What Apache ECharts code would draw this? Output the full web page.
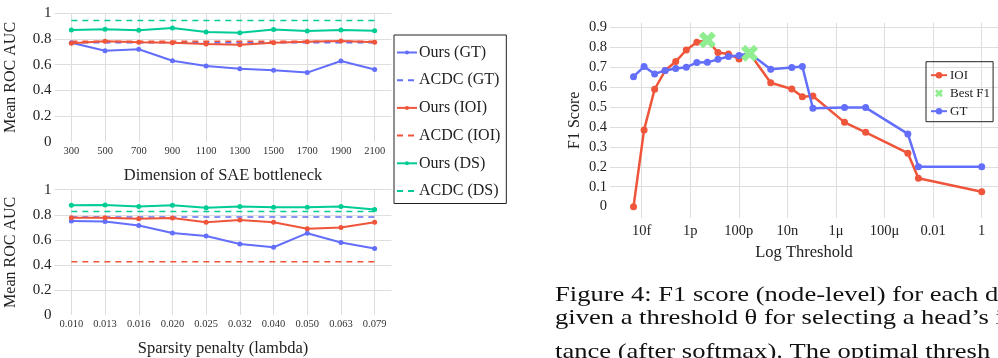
<!DOCTYPE html>
<html>
<head>
<meta charset="utf-8">
<script src="https://cdn.jsdelivr.net/npm/echarts@6/dist/echarts.min.js"></script>
<style>
  html, body { margin: 0; padding: 0; background: #fff; }
  #main { width: 998px; height: 358px; }
</style>
</head>
<body>
<div id="main"></div>
<script>
// ---- left charts: Mean ROC AUC ----
var dimCats = ['300', '500', '700', '900', '1100', '1300', '1500', '1700', '1900', '2100'];
var lambdaCats = ['0.010', '0.013', '0.016', '0.020', '0.025', '0.032', '0.040', '0.050', '0.063', '0.079'];

var dimOursGT  = [0.771, 0.709, 0.720, 0.631, 0.590, 0.569, 0.556, 0.538, 0.629, 0.562];
var dimOursIOI = [0.766, 0.782, 0.774, 0.771, 0.761, 0.756, 0.771, 0.779, 0.784, 0.774];
var dimOursDS  = [0.870, 0.875, 0.868, 0.886, 0.855, 0.849, 0.873, 0.862, 0.870, 0.865];
var dimAcdcGT = 0.771, dimAcdcIOI = 0.782, dimAcdcDS = 0.943;

var lamOursGT  = [0.751, 0.746, 0.715, 0.655, 0.630, 0.567, 0.541, 0.653, 0.578, 0.531];
var lamOursIOI = [0.777, 0.777, 0.769, 0.775, 0.741, 0.759, 0.741, 0.689, 0.699, 0.741];
var lamOursDS  = [0.876, 0.878, 0.865, 0.876, 0.855, 0.865, 0.860, 0.860, 0.865, 0.842];
var lamAcdcGT = 0.782, lamAcdcIOI = 0.425, lamAcdcDS = 0.826;

// ---- right chart: F1 score vs threshold (threshold = e^lnThr) ----
var lnThr = [-33, -32, -31, -30, -29, -28, -27, -26, -25, -24, -23, -22, -20, -18, -17, -16, -13, -11, -7, -6, 0];
var f1IOI = [0.0, 0.385, 0.589, 0.683, 0.728, 0.786, 0.825, 0.836, 0.773, 0.766, 0.741, 0.770, 0.622, 0.590, 0.552, 0.555, 0.423, 0.373, 0.268, 0.142, 0.075];
var f1GT  = [0.652, 0.703, 0.666, 0.683, 0.693, 0.700, 0.723, 0.724, 0.739, 0.753, 0.758, 0.770, 0.689, 0.698, 0.703, 0.494, 0.497, 0.497, 0.365, 0.200, 0.200];
var bestLn = [-26, -22];
var bestF1 = [0.836, 0.770];
var thrTickExp = [-14, -12, -10, -8, -6, -4, -2, 0];
var thrTickText = ['10f', '1p', '100p', '10n', '1μ', '100μ', '0.01', '1'];
var f1Ticks = [0, 0.1, 0.2, 0.3, 0.4, 0.5, 0.6, 0.7, 0.8, 0.9];

var caption = [
  'Figure 4: F1 score (node-level) for each d',
  'given a threshold θ for selecting a head’s i',
  'tance (after softmax). The optimal thresh'
];
var captionTop = [284.5, 307.5, 342];

var BLUE = '#636efa', RED = '#ef553b', GREEN = '#00cc96', LGREEN = '#90ee90';
var SERIF = '"Liberation Serif", "Times New Roman", serif';
var GRID = '#dedede';

function constLine(cats, v) {
  return cats.map(function () { return v; });
}

function solid(name, color, data, idx) {
  return {
    name: name, type: 'line', xAxisIndex: idx, yAxisIndex: idx, data: data,
    symbol: 'circle', symbolSize: 5, showSymbol: true,
    lineStyle: { color: color, width: 2 }, itemStyle: { color: color },
    animation: false, z: 3
  };
}
function dashed(name, color, data, idx) {
  return {
    name: name, type: 'line', xAxisIndex: idx, yAxisIndex: idx, data: data,
    symbol: 'none',
    lineStyle: { color: color, width: 1.5, type: [6, 5] }, itemStyle: { color: color },
    animation: false, z: 2
  };
}

function catAxis(cats, idx, name) {
  return {
    type: 'category', gridIndex: idx, data: cats, boundaryGap: true,
    axisLine: { show: false }, axisTick: { show: false, alignWithLabel: true },
    splitLine: { show: true, alignWithLabel: true, lineStyle: { color: GRID } },
    axisLabel: { fontFamily: SERIF, fontSize: 10.5, color: '#333', margin: 4 },
    name: name, nameLocation: 'middle', nameGap: 25,
    nameTextStyle: { fontFamily: SERIF, fontSize: 16.5, color: '#222' }
  };
}
function aucAxis(idx) {
  return {
    type: 'value', gridIndex: idx, min: 0, max: 1, interval: 0.2,
    axisLine: { show: false }, axisTick: { show: false },
    splitLine: { show: true, showMinLine: false, lineStyle: { color: GRID } },
    axisLabel: { fontFamily: SERIF, fontSize: 15, color: '#222', margin: 3,
      formatter: function (v) { return String(+v.toFixed(1)); } },
    name: 'Mean ROC AUC', nameLocation: 'middle', nameGap: 36,
    nameTextStyle: { fontFamily: SERIF, fontSize: 16, color: '#222' }
  };
}

var series = [
  solid('Ours (GT)', BLUE, dimOursGT, 0),
  dashed('ACDC (GT)', BLUE, constLine(dimCats, dimAcdcGT), 0),
  solid('Ours (IOI)', RED, dimOursIOI, 0),
  dashed('ACDC (IOI)', RED, constLine(dimCats, dimAcdcIOI), 0),
  solid('Ours (DS)', GREEN, dimOursDS, 0),
  dashed('ACDC (DS)', GREEN, constLine(dimCats, dimAcdcDS), 0),
  solid('Ours (GT)', BLUE, lamOursGT, 1),
  dashed('ACDC (GT)', BLUE, constLine(lambdaCats, lamAcdcGT), 1),
  solid('Ours (IOI)', RED, lamOursIOI, 1),
  dashed('ACDC (IOI)', RED, constLine(lambdaCats, lamAcdcIOI), 1),
  solid('Ours (DS)', GREEN, lamOursDS, 1),
  dashed('ACDC (DS)', GREEN, constLine(lambdaCats, lamAcdcDS), 1),
  {
    name: 'IOI', type: 'line', xAxisIndex: 2, yAxisIndex: 2,
    data: lnThr.map(function (n, i) { return [n * Math.LOG10E, f1IOI[i]]; }),
    symbol: 'circle', symbolSize: 7, lineStyle: { color: RED, width: 2.5 },
    itemStyle: { color: RED }, animation: false, z: 3
  },
  {
    name: 'GT', type: 'line', xAxisIndex: 2, yAxisIndex: 2,
    data: lnThr.map(function (n, i) { return [n * Math.LOG10E, f1GT[i]]; }),
    symbol: 'circle', symbolSize: 7, lineStyle: { color: BLUE, width: 2.5 },
    itemStyle: { color: BLUE }, animation: false, z: 4
  },
  {
    name: 'Best F1', type: 'scatter', xAxisIndex: 2, yAxisIndex: 2,
    data: bestLn.map(function (n, i) { return [n * Math.LOG10E, bestF1[i]]; }),
    symbol: 'path://M0,3 L3,0 L6,3 L9,0 L12,3 L9,6 L12,9 L9,12 L6,9 L3,12 L0,9 L3,6 Z',
    symbolSize: 17, itemStyle: { color: LGREEN, opacity: 1 }, animation: false, z: 5
  }
];

var chart = echarts.init(document.getElementById('main'), null, { renderer: 'canvas' });
chart.setOption({
  backgroundColor: '#fff',
  animation: false,
  grid: [
    { left: 54.5, right: 606.5, top: 13.3, bottom: 216.3 },
    { left: 54.5, right: 606.5, top: 189.7, bottom: 39.7 },
    { left: 610, right: 0, top: 22.7, bottom: 140 }
  ],
  xAxis: [
    catAxis(dimCats, 0, 'Dimension of SAE bottleneck'),
    catAxis(lambdaCats, 1, 'Sparsity penalty (lambda)'),
    {
      type: 'value', gridIndex: 2, min: -15.3, max: 0.67,
      axisLine: { show: false },
      axisTick: { show: false, customValues: thrTickExp },
      splitLine: { show: true, lineStyle: { color: GRID } },
      axisLabel: { customValues: thrTickExp, fontFamily: SERIF, fontSize: 14.5, color: '#222', margin: 6,
        formatter: function (v) { return thrTickText[thrTickExp.indexOf(Math.round(v))]; } },
      name: 'Log Threshold', nameLocation: 'middle', nameGap: 25,
      nameTextStyle: { fontFamily: SERIF, fontSize: 16.5, color: '#222' }
    }
  ],
  yAxis: [
    aucAxis(0),
    aucAxis(1),
    {
      type: 'value', gridIndex: 2, min: -0.057, max: 0.923,
      axisLine: { show: false },
      axisTick: { show: false, customValues: f1Ticks.slice(1) },
      splitLine: { show: true, lineStyle: { color: GRID } },
      axisLabel: { customValues: f1Ticks, fontFamily: SERIF, fontSize: 14.5, color: '#222', margin: 3,
        formatter: function (v) { return String(+v.toFixed(1)); } },
      name: 'F1 Score', nameLocation: 'middle', nameGap: 27,
      nameTextStyle: { fontFamily: SERIF, fontSize: 16, color: '#222' }
    }
  ],
  legend: [
    {
      left: 394, top: 35, orient: 'vertical',
      data: [
        { name: 'Ours (GT)' },
        { name: 'ACDC (GT)', itemStyle: { opacity: 0 } },
        { name: 'Ours (IOI)' },
        { name: 'ACDC (IOI)', itemStyle: { opacity: 0 } },
        { name: 'Ours (DS)' },
        { name: 'ACDC (DS)', itemStyle: { opacity: 0 } }
      ],
      itemWidth: 20, itemHeight: 5, itemGap: 11.7,
      padding: [9.5, 6, 4.5, 2], borderColor: '#222', borderWidth: 1,
      textStyle: { fontFamily: SERIF, fontSize: 16, color: '#222', padding: [0, 0, 0, -3] }
    },
    {
      left: 926, top: 61.7, orient: 'vertical',
      data: ['IOI', 'Best F1', 'GT'],
      itemWidth: 16, itemHeight: 8, itemGap: 5,
      padding: [7, 3, 4, 4], borderColor: '#222', borderWidth: 1,
      textStyle: { fontFamily: SERIF, fontSize: 13, color: '#222', padding: [0, 0, 0, -2] }
    }
  ],
  series: series,
  graphic: caption.map(function (t, i) {
    return {
      type: 'text', x: 555, y: captionTop[i], scaleX: 1.265,
      style: { text: t, font: '21px ' + SERIF, fill: '#111' }
    };
  })
});
</script>
</body>
</html>
